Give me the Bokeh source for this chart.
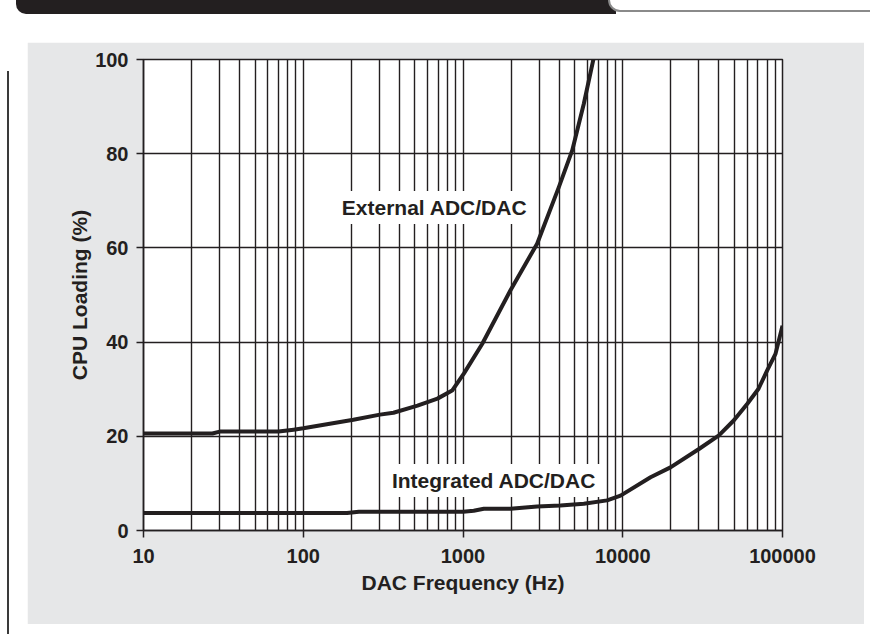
from bokeh.plotting import figure
from bokeh.models import Label, FixedTicker, Div
from bokeh.layouts import column, row
from bokeh.embed import file_html
from bokeh.resources import INLINE

# ---- data ----
ext_freq = [10, 27, 30, 70, 87, 100, 206, 302, 367, 519, 692, 855, 1012, 1318, 1983, 2911, 3981, 4827, 5706, 6595]
ext_load = [20.6, 20.6, 21.0, 21.0, 21.4, 21.7, 23.5, 24.6, 25.0, 26.5, 28.0, 29.7, 33.3, 39.6, 51.0, 60.9, 72.9, 80.7, 90.6, 100.5]

int_freq = [10, 188, 223, 1000, 1167, 1350, 1983, 2911, 4070, 5706, 7980, 9690, 14930, 19900, 29990, 40000, 49660, 60250, 70800, 80200, 90400, 100000]
int_load = [3.7, 3.7, 4.0, 4.0, 4.2, 4.6, 4.6, 5.1, 5.3, 5.7, 6.4, 7.4, 11.3, 13.4, 17.3, 20.2, 23.4, 26.9, 30.1, 34.0, 37.5, 43.5]

x_ticks = [10, 100, 1000, 10000, 100000]
x_tick_labels = ["10", "100", "1000", "10000", "100000"]
x_minor = [m * d for d in [10, 100, 1000, 10000] for m in range(2, 10)]
y_ticks = [0, 20, 40, 60, 80, 100]

series_labels = ["External ADC/DAC", "Integrated ADC/DAC"]
label_pos_x = [664, 1563]
label_pos_y = [68.6, 10.6]

INK = "#231f20"
PANEL = "#e6e7e8"
FONT = "Liberation Sans"

p = figure(width=837, height=582, x_axis_type="log", x_range=(10, 100000), y_range=(0, 100),
           output_backend="svg", toolbar_location=None,
           min_border_left=116, min_border_right=82, min_border_top=17, min_border_bottom=94,
           background_fill_color="white", border_fill_color=PANEL, margin=0)

# curves
p.line(ext_freq, ext_load, line_color=INK, line_width=4, line_join="round")
p.line(int_freq, int_load, line_color=INK, line_width=4, line_join="round")

for t, lx, ly in zip(series_labels, label_pos_x, label_pos_y):
    p.add_layout(Label(x=lx, y=ly, text=t, text_align="center", text_baseline="middle",
                       text_font=FONT, text_font_style="bold", text_font_size="21px",
                       text_color=INK, background_fill_color="white", background_fill_alpha=1,
                       padding=5))

# axes
p.xaxis.ticker = FixedTicker(ticks=x_ticks, minor_ticks=x_minor)
p.xaxis.major_label_overrides = {t: l for t, l in zip(x_ticks, x_tick_labels)}
p.yaxis.ticker = FixedTicker(ticks=y_ticks)
for ax in (p.xaxis, p.yaxis):
    ax.axis_line_color = INK
    ax.axis_line_width = 1.5
    ax.major_tick_line_color = INK
    ax.major_tick_line_width = 1.5
    ax.major_tick_in = 0
    ax.major_tick_out = 7
    ax.minor_tick_in = 0
    ax.minor_tick_out = 0
    ax.major_label_text_font = FONT
    ax.major_label_text_font_style = "bold"
    ax.major_label_text_font_size = "20px"
    ax.major_label_text_color = INK
    ax.axis_label_text_font = FONT
    ax.axis_label_text_font_style = "bold"
    ax.axis_label_text_font_size = "21px"
    ax.axis_label_text_color = INK
p.xaxis.axis_label = "DAC Frequency (Hz)"
p.yaxis.axis_label = "CPU Loading (%)"
p.xaxis.major_label_standoff = 11
p.yaxis.major_label_standoff = 8
p.xaxis.axis_label_standoff = 5
p.yaxis.axis_label_standoff = 1

p.xgrid.ticker = FixedTicker(ticks=x_ticks, minor_ticks=x_minor)
p.xgrid.grid_line_color = INK
p.xgrid.grid_line_width = 1.4
p.xgrid.minor_grid_line_color = INK
p.xgrid.minor_grid_line_width = 1.4
p.ygrid.ticker = FixedTicker(ticks=y_ticks)
p.ygrid.grid_line_color = INK
p.ygrid.grid_line_width = 1.4

p.outline_line_color = INK
p.outline_line_width = 1.5
p.outline_line_alpha = 1

# page decorations: header bar and left rule
header_html = (
    '<div style="position:relative;width:870px;height:42px;overflow:hidden;background:white;">'
    '<div style="position:absolute;left:16px;top:0px;width:600px;height:14px;'
    'background:#231f20;border-bottom-left-radius:10px;"></div>'
    '<div style="position:absolute;left:608px;top:-20px;width:300px;height:32px;'
    'background:white;border:2px solid #8a8a8a;border-bottom-left-radius:12px;"></div>'
    '</div>'
)
header = Div(text=header_html, width=870, height=42, margin=0)

left_html = (
    '<div style="position:relative;width:27px;height:592px;overflow:hidden;background:white;">'
    '<div style="position:absolute;left:7px;top:29px;width:2px;height:570px;background:#3a3a3a;"></div>'
    '</div>'
)
left = Div(text=left_html, width=27, height=592, margin=0)
right = Div(text="", width=6, height=592, margin=0)

layout = column(header, row(left, p, right, spacing=0, margin=0), spacing=0, margin=0)

open("out.html", "w").write(file_html(layout, INLINE))
